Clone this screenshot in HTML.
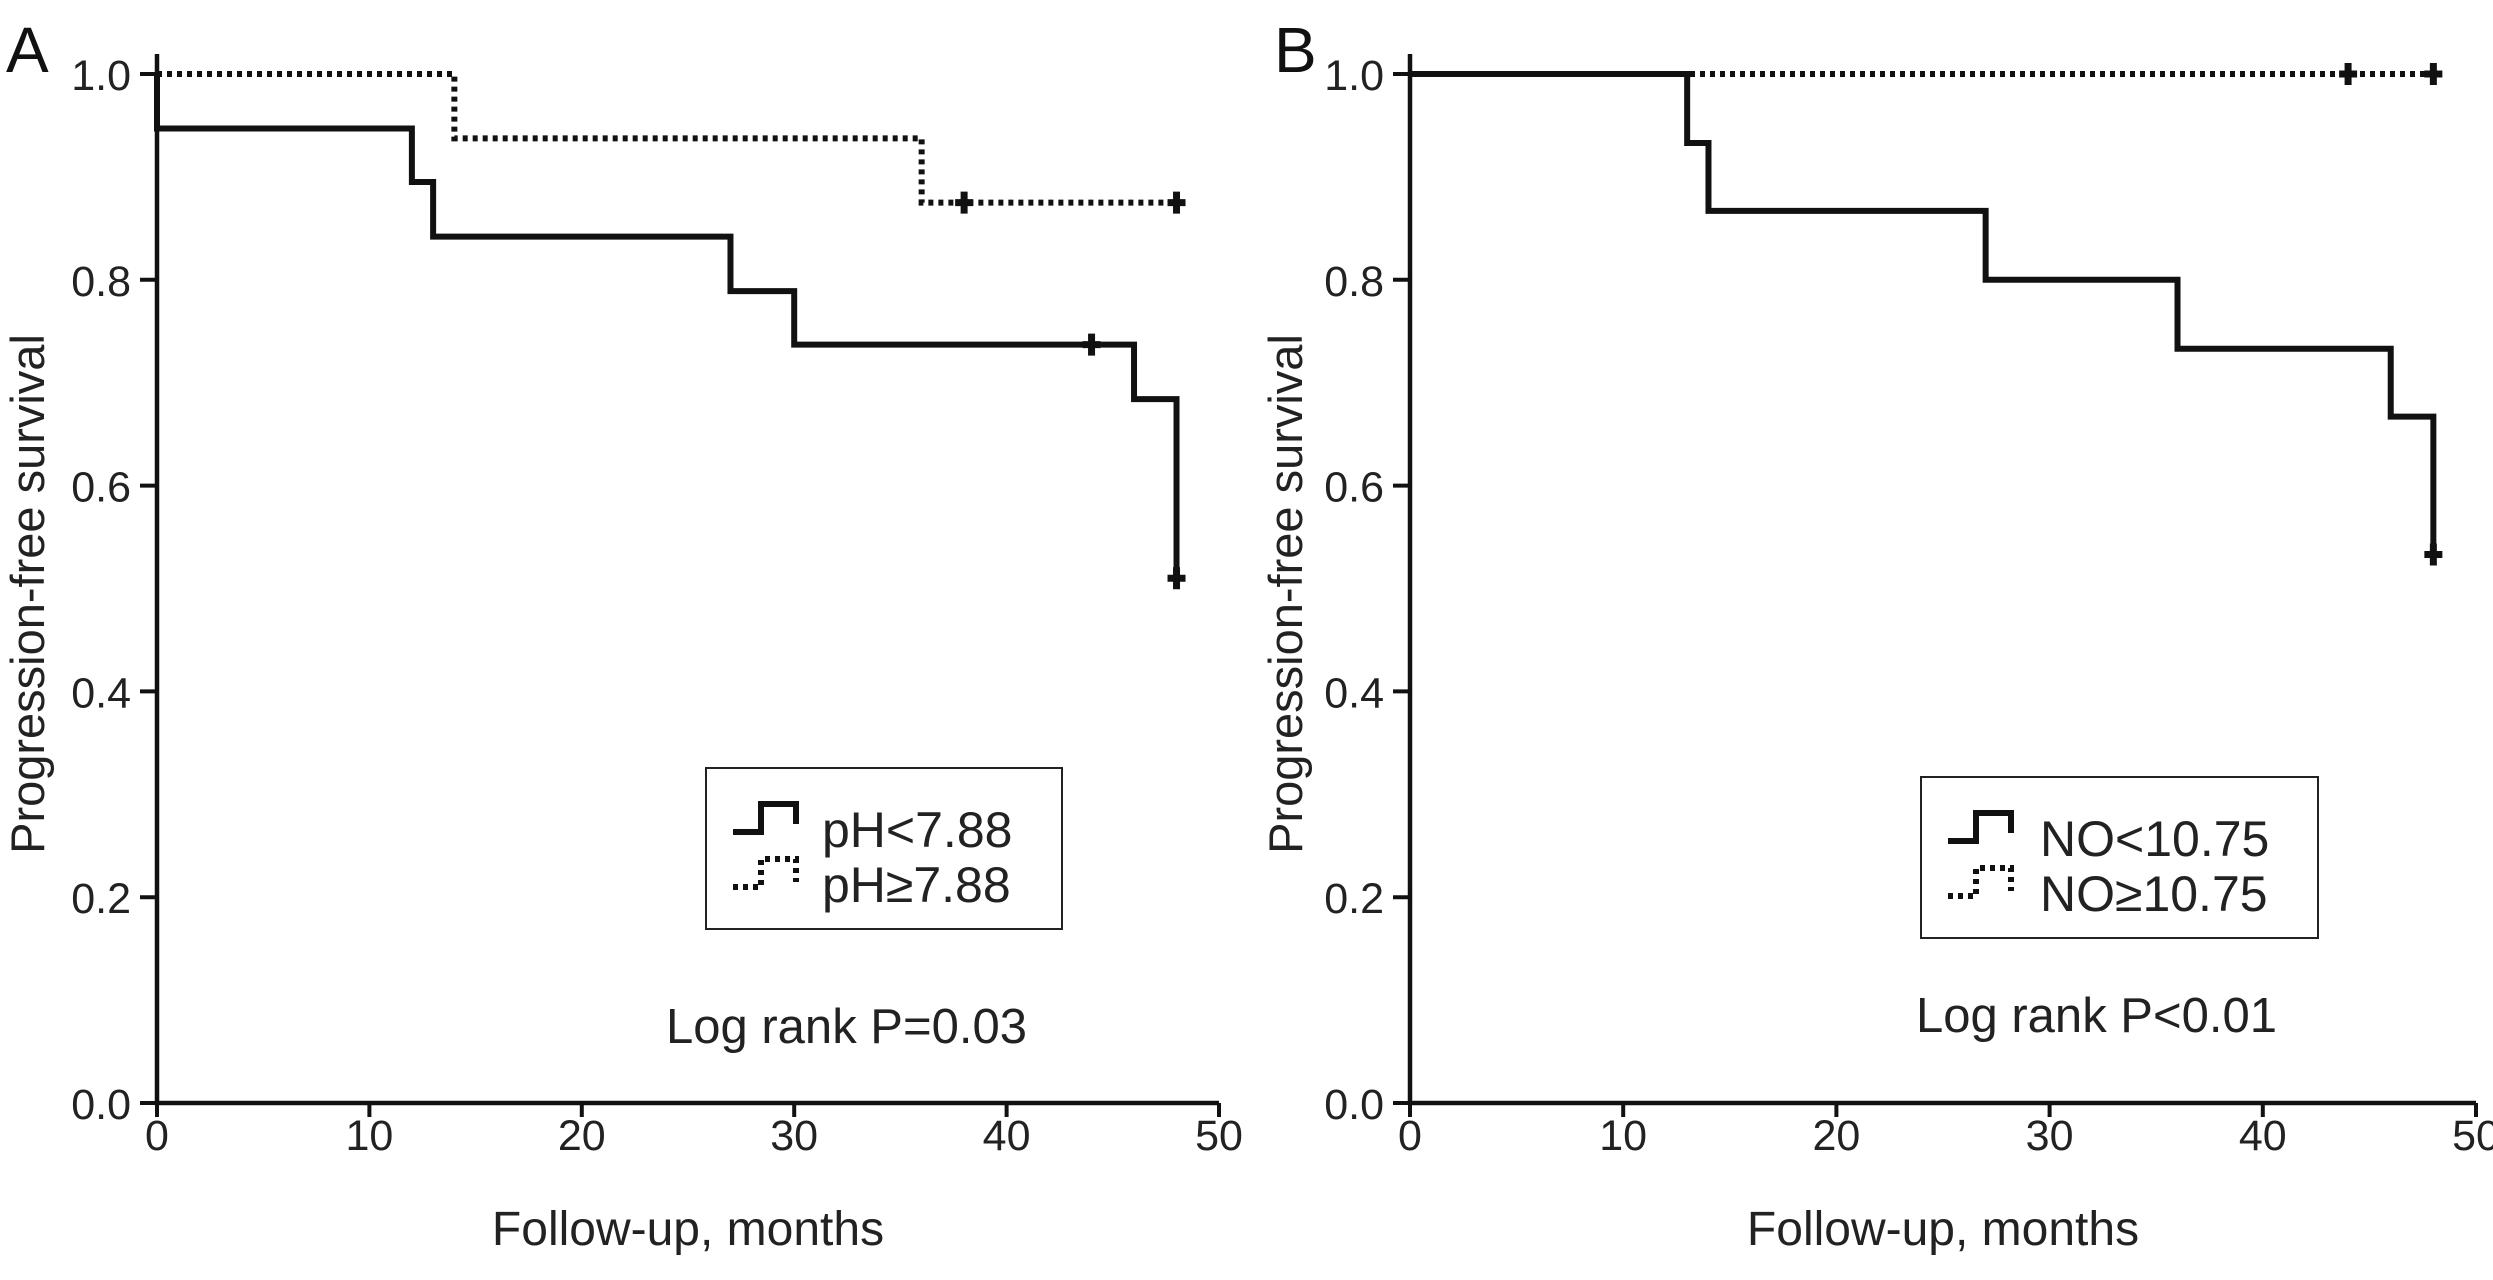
<!DOCTYPE html>
<html><head><meta charset="utf-8"><style>
html,body{margin:0;padding:0;background:#fff;}
svg{display:block;font-family:"Liberation Sans",Arial,sans-serif;}
</style></head><body>
<svg id="chart" width="2493" height="1280" viewBox="0 0 2493 1280"></svg>
<script>
// Panel A data
const aSolidTimes = [0, 12, 13, 27, 30, 46, 48];
const aSolidSurv = [0.947, 0.895, 0.842, 0.789, 0.737, 0.684, 0.51];
const aSolidCensor = [44, 48];
const aDotTimes = [0, 14, 36, 48];
const aDotSurv = [1.0, 0.9375, 0.875, 0.875];
const aDotCensor = [38, 48];
// Panel B data
const bSolidTimes = [0, 13, 14, 27, 36, 46, 48];
const bSolidSurv = [1.0, 0.933, 0.867, 0.8, 0.733, 0.667, 0.533];
const bSolidCensor = [48];
const bDotTimes = [0, 48];
const bDotSurv = [1.0, 1.0];
const bDotCensor = [44, 48];
const xTicks = [0, 10, 20, 30, 40, 50];
const yTicks = [0.0, 0.2, 0.4, 0.6, 0.8, 1.0];
const yTickLabels = ["0.0", "0.2", "0.4", "0.6", "0.8", "1.0"];

const NS = "http://www.w3.org/2000/svg";
const svg = document.getElementById("chart");
function mk(tag, attrs, parent) {
  const e = document.createElementNS(NS, tag);
  for (const k in attrs) e.setAttribute(k, attrs[k]);
  (parent || svg).appendChild(e);
  return e;
}

function panel(opt) {
  const g = mk("g", {});
  
  
  const x = t => opt.x0 + (opt.x1 - opt.x0) * t / 50;
  const y = v => 1103 - (1103 - 74) * v;
  const ax = mk("path", {d: `M${opt.x0},54 V1103 H${x(50)}`, stroke: "#111", "stroke-width": 4.5, fill: "none"}, g);
  
  
  yTicks.forEach((v, i) => {
    const tk = mk("line", {x1: opt.x0 - 17, x2: opt.x0, y1: y(v), y2: y(v), stroke: "#111", "stroke-width": 4}, g);
    
    
    const tl = mk("text", {x: opt.x0 - 26, y: y(v) + 16, "text-anchor": "end", "font-size": 43, fill: "#222"}, g);
    tl.textContent = yTickLabels[i];
    
    
  });
  xTicks.forEach(t => {
    const tk = mk("line", {x1: x(t), x2: x(t), y1: 1103, y2: 1117, stroke: "#111", "stroke-width": 4}, g);
    
    
    const tl = mk("text", {x: x(t), y: 1150, "text-anchor": "middle", "font-size": 43, fill: "#222"}, g);
    tl.textContent = t;
    
    
  });
  function curve(times, surv, censor, dotted, name) {
    let d = `M${x(times[0])},${y(1)} V${y(surv[0])}`;
    for (let i = 1; i < times.length; i++) {
      d += ` H${x(times[i])} V${y(surv[i])}`;
    }
    const p = mk("path", {d, stroke: "#111", "stroke-width": 6, fill: "none",
      "stroke-dasharray": dotted ? "5 5" : "none"}, g);
    
    
    censor.forEach(c => {
      let s = surv[surv.length - 1];
      for (let i = 0; i < times.length; i++) if (times[i] <= c) s = surv[i];
      if (c >= times[times.length - 1]) s = surv[surv.length - 1];
      const m = mk("path", {d: `M${x(c)},${y(s) - 11} V${y(s) + 11} M${x(c) - 9},${y(s)} H${x(c) + 9}`, stroke: "#111", "stroke-width": 7}, g);
      
      
    });
  }
  curve(opt.st, opt.ss, opt.sc, false, "solid-curve");
  curve(opt.dt, opt.ds, opt.dc, true, "dotted-curve");
  const lg = mk("g", {}, g);
  
  
  mk("rect", {x: opt.lx, y: opt.ly, width: opt.lw, height: 161, fill: "#fff", stroke: "#222", "stroke-width": 2}, lg);
  const sx = opt.lx + 27, r1 = opt.ly + 64, r2 = opt.ly + 119;
  const s1 = mk("path", {d: `M${sx},${r1} H${sx+28} V${r1-28} H${sx+63} V${r1-8}`, stroke: "#111", "stroke-width": 6, fill: "none"}, lg);
  
  
  const s2 = mk("path", {d: `M${sx},${r2} H${sx+28} V${r2-28} H${sx+63} V${r2-5}`, stroke: "#111", "stroke-width": 6, fill: "none", "stroke-dasharray": "5 5"}, lg);
  
  
  const t1 = mk("text", {x: opt.tx, y: r1 + 15, "font-size": 50, fill: "#222"}, lg);
  t1.textContent = opt.l1;
  
  
  const t2 = mk("text", {x: opt.tx, y: r2 + 15, "font-size": 50, fill: "#222"}, lg);
  t2.textContent = opt.l2;
  
  
  const lr = mk("text", {x: opt.px, y: opt.py, "font-size": 49, fill: "#222"}, g);
  lr.textContent = opt.p;
  
  
  const xt = mk("text", {x: (opt.x0 + x(50)) / 2, y: 1245, "text-anchor": "middle", "font-size": 48, fill: "#222"}, g);
  xt.textContent = "Follow-up, months";
  
  
  const yt = mk("text", {x: 0, y: 0, "text-anchor": "middle", "font-size": 47, fill: "#222",
    transform: `translate(${opt.ytx},594) rotate(-90)`}, g);
  yt.textContent = "Progression-free survival";
  
  
  const pl = mk("text", {x: opt.lbx, y: 72, "font-size": 64, fill: "#111"}, g);
  pl.textContent = opt.label;
  
  
}

panel({name: "panel-a", x0: 157, x1: 1219, st: aSolidTimes, ss: aSolidSurv, sc: aSolidCensor,
  dt: aDotTimes, ds: aDotSurv, dc: aDotCensor, lx: 706, ly: 768, lw: 356, tx: 822,
  l1: "pH<7.88", l2: "pH\u22657.88", px: 666, py: 1043, p: "Log rank P=0.03", ytx: 44, lbx: 6, label: "A"});
panel({name: "panel-b", x0: 1410, x1: 2476, st: bSolidTimes, ss: bSolidSurv, sc: bSolidCensor,
  dt: bDotTimes, ds: bDotSurv, dc: bDotCensor, lx: 1921, ly: 777, lw: 397, tx: 2040,
  l1: "NO<10.75", l2: "NO\u226510.75", px: 1916, py: 1032, p: "Log rank P<0.01", ytx: 1302, lbx: 1274, label: "B"});
</script>
</body></html>
